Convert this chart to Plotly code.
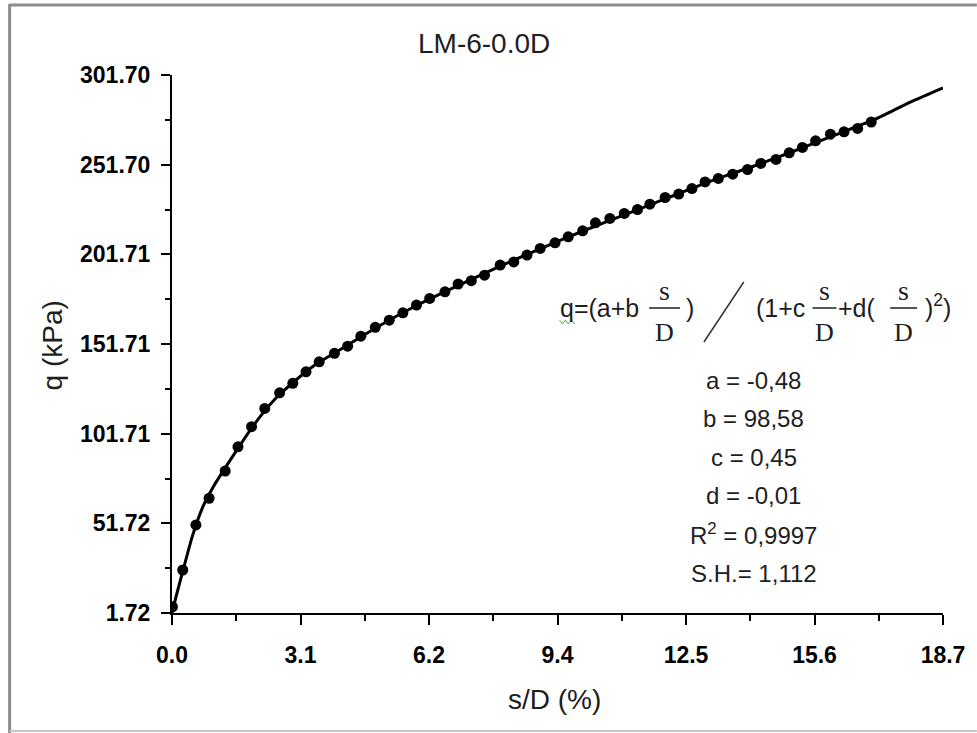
import plotly.graph_objects as go

# ---- data ----
sd_pct = [0.01, 0.26, 0.58, 0.90, 1.29, 1.60, 1.93, 2.25, 2.61, 2.93, 3.25, 3.57, 3.94,
          4.26, 4.58, 4.93, 5.27, 5.60, 5.93, 6.25, 6.62, 6.94, 7.26, 7.58, 7.96, 8.29,
          8.61, 8.93, 9.29, 9.61, 9.96, 10.27, 10.62, 10.97, 11.29, 11.59, 11.96, 12.29,
          12.61, 12.93, 13.25, 13.60, 13.96, 14.28, 14.65, 14.97, 15.29, 15.61, 15.97,
          16.30, 16.63, 16.96]
q_kpa = [5.2, 25.7, 50.8, 65.7, 80.9, 94.4, 105.6, 115.8, 124.5, 129.8, 136.2, 141.8, 146.5,
         150.5, 156.1, 161.0, 165.0, 169.1, 173.4, 177.1, 180.8, 185.1, 187.0, 190.1, 195.7,
         197.5, 201.3, 205.0, 208.1, 211.5, 214.8, 219.3, 221.7, 224.5, 226.7, 229.7, 233.4,
         235.3, 238.4, 242.1, 244.0, 246.4, 249.0, 252.4, 254.6, 258.3, 261.3, 265.0, 268.7,
         270.0, 271.9, 275.5]

fit_sd = [0.0, 0.1, 0.25, 0.5, 0.75, 1.0, 1.5, 2.0, 2.5, 3.0, 3.5, 4.0, 5.0, 6.0, 7.0, 8.0,
          9.0, 10.0, 11.0, 12.0, 13.0, 14.0, 15.0, 16.0, 17.0, 17.5, 18.0, 18.7]
fit_q = [1.7, 11.0, 24.0, 45.0, 61.0, 72.0, 90.0, 107.0, 121.0, 131.5, 140.5, 147.5, 161.5,
         174.0, 185.0, 195.5, 205.5, 215.0, 224.0, 233.0, 242.0, 250.0, 258.5, 267.5, 276.5,
         282.0, 287.5, 294.5]

x_tickvals = [0.0, 3.1167, 6.2333, 9.35, 12.4667, 15.5833, 18.7]
x_ticktext = ["0.0", "3.1", "6.2", "9.4", "12.5", "15.6", "18.7"]
x_minor = [1.5583, 4.675, 7.7917, 10.9083, 14.025, 17.1417]
y_tickvals = [1.72, 51.72, 101.71, 151.71, 201.71, 251.70, 301.70]
y_ticktext = ["1.72", "51.72", "101.71", "151.71", "201.71", "251.70", "301.70"]
y_minor = [26.72, 76.715, 126.71, 176.71, 226.705, 276.70]

title_text = "LM-6-0.0D"
x_title = "s/D (%)"
y_title = "q (kPa)"
param_lines = ["a = -0,48", "b = 98,58", "c = 0,45", "d = -0,01", "R<sup>2</sup> = 0,9997", "S.H.= 1,112"]

# ---- layout geometry ----
W, H = 977, 733
L, R, T, B = 172, 31, 75, 120
PW, PH = W - L - R, H - T - B


def px(xp):
    return (xp - L) / PW


def py(yp):
    return (H - B - yp) / PH


SANS = "Liberation Sans, Arial, sans-serif"
SERIF = "Liberation Serif, Times New Roman, serif"
TXT = "#1e1e1e"

fig = go.Figure()
fig.add_trace(go.Scatter(x=fit_sd, y=fit_q, mode="lines",
                         line=dict(color="black", width=3, shape="spline", smoothing=0.6),
                         hoverinfo="skip"))
fig.add_trace(go.Scatter(x=sd_pct, y=q_kpa, mode="markers",
                         marker=dict(color="black", size=11, symbol="circle")))

axis_common = dict(showgrid=False, zeroline=False, showline=True, linecolor="black", linewidth=2,
                   ticks="outside", tickcolor="black", tickwidth=2,
                   tickfont=dict(family=SANS, size=23, color="black", weight="bold"),
                   tickmode="array")

fig.update_xaxes(range=[0, 18.7], tickvals=x_tickvals, ticktext=x_ticktext, ticklen=10,
                 ticklabelstandoff=10,
                 minor=dict(tickvals=x_minor, ticks="outside", ticklen=6, tickcolor="black", tickwidth=2),
                 **axis_common)
fig.update_yaxes(range=[1.72, 301.70], tickvals=y_tickvals, ticktext=y_ticktext, ticklen=9,
                 ticklabelstandoff=6,
                 minor=dict(tickvals=y_minor, ticks="outside", ticklen=5, tickcolor="black", tickwidth=2),
                 **axis_common)

ann = []
ann.append(dict(text=title_text, x=px(485), y=py(44), xref="paper", yref="paper", showarrow=False,
                font=dict(family=SANS, size=28, color=TXT), xanchor="center", yanchor="middle"))
ann.append(dict(text=x_title, x=px(556), y=py(699), xref="paper", yref="paper", showarrow=False,
                font=dict(family=SANS, size=28, color=TXT), xanchor="center", yanchor="middle"))
ann.append(dict(text=y_title, x=px(52), y=py(345), xref="paper", yref="paper", showarrow=False,
                textangle=-90, font=dict(family=SANS, size=28, color=TXT), xanchor="center", yanchor="middle"))

# formula pieces
FS = 25
ann.append(dict(text="q=(a+b", x=px(559), y=py(308), xref="paper", yref="paper", showarrow=False,
                font=dict(family=SANS, size=FS, color=TXT), xanchor="left", yanchor="middle"))
ann.append(dict(text=")", x=px(692), y=py(308), xref="paper", yref="paper", showarrow=False,
                font=dict(family=SANS, size=FS, color=TXT), xanchor="center", yanchor="middle"))
ann.append(dict(text="(1+c", x=px(756), y=py(308), xref="paper", yref="paper", showarrow=False,
                font=dict(family=SANS, size=FS, color=TXT), xanchor="left", yanchor="middle"))
ann.append(dict(text="+d(", x=px(839), y=py(308), xref="paper", yref="paper", showarrow=False,
                font=dict(family=SANS, size=FS, color=TXT), xanchor="left", yanchor="middle"))
ann.append(dict(text=")<sup>2</sup>)", x=px(926), y=py(306), xref="paper", yref="paper", showarrow=False,
                font=dict(family=SANS, size=FS, color=TXT), xanchor="left", yanchor="middle"))

shapes = []
for cx, x0, x1 in [(666, 651, 682), (827, 815, 839), (906, 893, 920)]:
    ann.append(dict(text="s", x=px(cx), y=py(290), xref="paper", yref="paper", showarrow=False,
                    font=dict(family=SERIF, size=28, color=TXT), xanchor="center", yanchor="middle"))
    ann.append(dict(text="D", x=px(cx), y=py(332), xref="paper", yref="paper", showarrow=False,
                    font=dict(family=SERIF, size=26, color=TXT), xanchor="center", yanchor="middle"))
    shapes.append(dict(type="line", xref="paper", yref="paper", x0=px(x0), x1=px(x1),
                       y0=py(308), y1=py(308), line=dict(color=TXT, width=1.5)))

# slash between numerator and denominator
shapes.append(dict(type="line", xref="paper", yref="paper", x0=px(706), y0=py(342), x1=px(746), y1=py(282),
                   line=dict(color="#333333", width=1.5)))
# green squiggle under q
sq = [(561, 320), (564, 324), (567, 320), (570, 324), (573, 320), (576, 324)]
path = "M " + " L ".join(f"{px(a):.5f},{py(b):.5f}" for a, b in sq)
shapes.append(dict(type="path", xref="paper", yref="paper", path=path, line=dict(color="#3cb43c", width=1)))

# parameter lines
for i, t in enumerate(param_lines):
    ann.append(dict(text=t, x=px(756), y=py(380 + i * 38.6), xref="paper", yref="paper", showarrow=False,
                    font=dict(family=SANS, size=24, color=TXT), xanchor="center", yanchor="middle"))

# outer window frame
shapes.append(dict(type="line", xref="paper", yref="paper", x0=px(9), x1=px(980), y0=py(5), y1=py(5),
                   line=dict(color="#8c8c8c", width=3)))
shapes.append(dict(type="line", xref="paper", yref="paper", x0=px(9), x1=px(9), y0=py(4), y1=py(733),
                   line=dict(color="#8c8c8c", width=3)))
shapes.append(dict(type="line", xref="paper", yref="paper", x0=px(9), x1=px(980), y0=py(731), y1=py(731),
                   line=dict(color="#c8c8c8", width=2)))

fig.update_layout(width=W, height=H, autosize=False, margin=dict(l=L, r=R, t=T, b=B, pad=0),
                  plot_bgcolor="white", paper_bgcolor="white", showlegend=False,
                  annotations=ann, shapes=shapes)

fig.write_html("out.html")
